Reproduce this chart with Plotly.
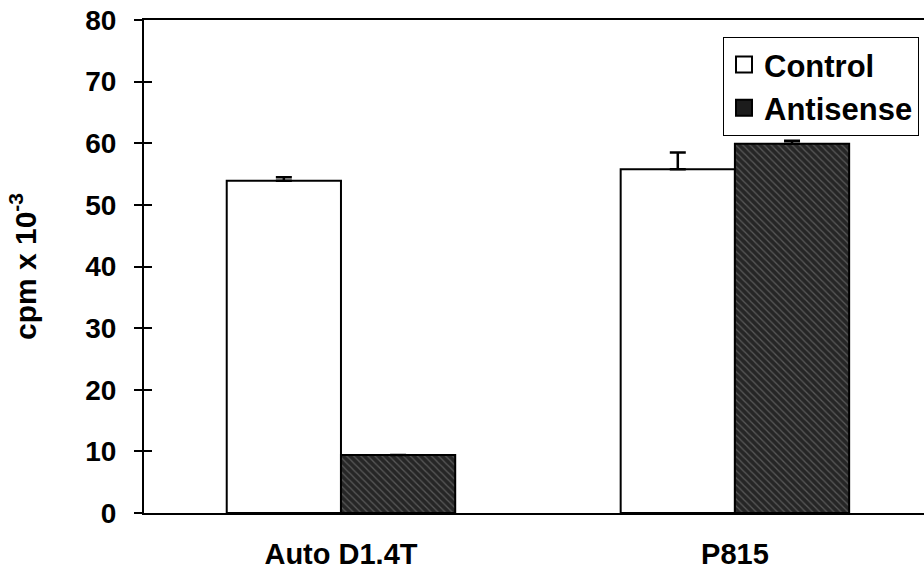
import plotly.graph_objects as go

# Proliferation data (cpm x 10^-3)
cell_lines = ["Auto D1.4T", "P815"]
control_values = [53.9, 55.8]
control_errors = [0.6, 2.7]
antisense_values = [9.4, 59.9]
antisense_errors = [0.0, 0.5]
y_ticks = [0, 10, 20, 30, 40, 50, 60, 70, 80]

FONT = "Liberation Sans, Arial, Helvetica, sans-serif"
CONTROL_FILL = "white"
ANTISENSE_FILL = "#262626"

fig = go.Figure()

fig.add_trace(go.Bar(
    name="Control",
    x=cell_lines,
    y=control_values,
    showlegend=False,
    legendgroup="control",
    marker=dict(color=CONTROL_FILL, line=dict(color="black", width=2)),
    error_y=dict(type="data", array=control_errors, symmetric=False,
                 arrayminus=[0, 0], color="black", thickness=2.5, width=8),
))

fig.add_trace(go.Bar(
    name="Antisense",
    x=cell_lines,
    y=antisense_values,
    showlegend=False,
    legendgroup="antisense",
    marker=dict(
        color=ANTISENSE_FILL,
        line=dict(color="black", width=2),
        pattern=dict(shape="\\", fgcolor="#8c8c8c", size=5, solidity=0.25,
                     fillmode="overlay"),
    ),
    error_y=dict(type="data", array=antisense_errors, symmetric=False,
                 arrayminus=[0, 0], color="black", thickness=2.5, width=8),
))

# legend entries with larger square swatches
for name, fill, group in [("Control", CONTROL_FILL, "control"),
                          ("Antisense", "#1c1c1c", "antisense")]:
    fig.add_trace(go.Scatter(
        name=name, x=[cell_lines[0]], y=[None], mode="markers",
        legendgroup=group,
        marker=dict(symbol="square", size=16, color=fill,
                    line=dict(color="black", width=2)),
    ))

# second y axis used only to draw the inner half of the crossing ticks
fig.add_trace(go.Scatter(x=[], y=[], yaxis="y2", showlegend=False))

fig.update_layout(
    width=924,
    height=579,
    margin=dict(l=144, r=0, t=20, b=66),
    paper_bgcolor="white",
    plot_bgcolor="white",
    barmode="group",
    bargap=0.42,
    bargroupgap=0,
    font=dict(family=FONT, color="black", size=24, weight="bold"),
    showlegend=True,
    legend=dict(
        x=0.9936, xanchor="right",
        y=0.966, yanchor="top",
        bgcolor="white",
        bordercolor="black",
        borderwidth=1,
        font=dict(family=FONT, size=31, color="black", weight="bold"),
        itemsizing="trace",
        itemwidth=30,
        tracegroupgap=0,
    ),
    xaxis=dict(
        range=[-0.5, 1.48],
        showline=True,
        linecolor="black",
        linewidth=2,
        mirror=True,
        ticks="",
        showgrid=False,
        zeroline=False,
        tickfont=dict(family=FONT, size=29, weight="bold"),
        ticklabelstandoff=14,
    ),
    yaxis=dict(
        range=[0, 80],
        tickvals=y_ticks,
        ticks="outside",
        ticklen=8,
        tickwidth=2,
        tickcolor="black",
        showline=True,
        linecolor="black",
        linewidth=2,
        showgrid=False,
        zeroline=False,
        tickfont=dict(family=FONT, size=28, weight="bold"),
        ticklabelstandoff=12,
        title=dict(text="cpm x 10<sup>-3</sup>",
                   font=dict(family=FONT, size=30, weight="bold"),
                   standoff=40),
    ),
    yaxis2=dict(
        range=[0, 80],
        tickvals=y_ticks,
        overlaying="y",
        side="left",
        ticks="inside",
        ticklen=8,
        tickwidth=2,
        tickcolor="black",
        showticklabels=False,
        showgrid=False,
        zeroline=False,
        showline=False,
    ),
)

fig.write_html("out.html")
